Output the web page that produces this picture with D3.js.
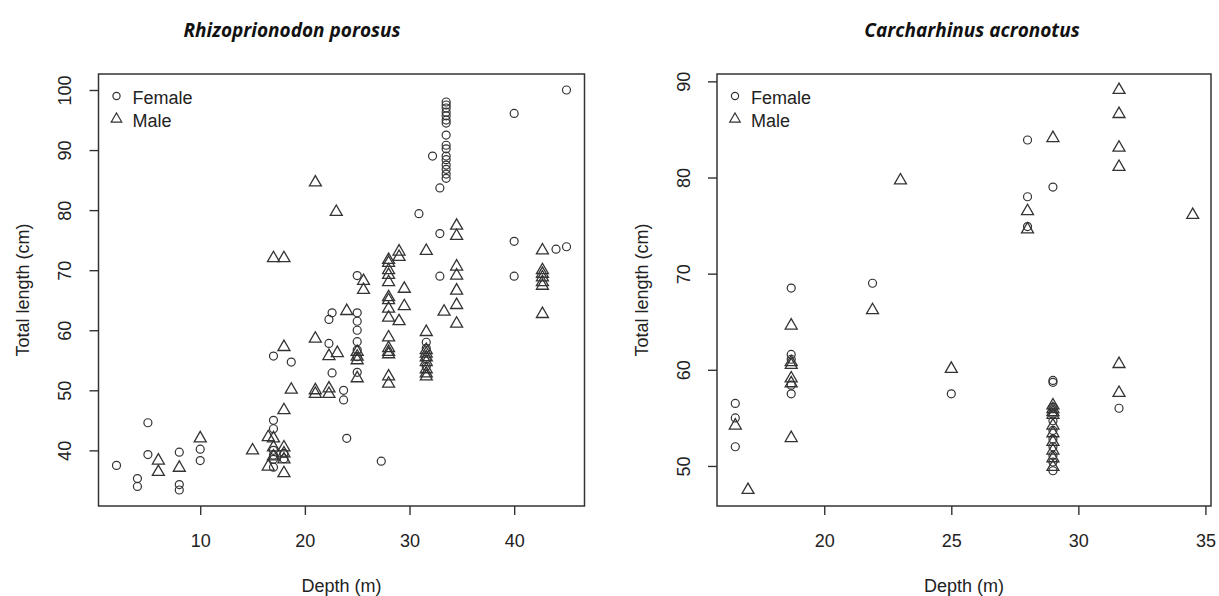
<!DOCTYPE html>
<html>
<head>
<meta charset="utf-8">
<script src="https://cdn.jsdelivr.net/npm/d3@7"></script>
<style>
  body { margin: 0; background: #fff; }
  svg { display: block; }
  .tick text, .lab, .legend text { font-family: "Liberation Sans", Arial, sans-serif; fill: #222; }
  .title { font-family: "Open Sans", sans-serif; font-weight: bold; font-style: italic; fill: #111; }
</style>
</head>
<body>
<svg id="chart" width="1219" height="596"></svg>
<script>
"use strict";

// Rhizoprionodon porosus : [depth (m), total length (cm)]
var rpFemale = [
  [2,37.5],[4,35.3],[4,34],[5,44.6],[5,39.3],[8,39.7],[8,34.3],[8,33.4],[10,40.2],[10,38.3],
  [17,55.7],[17,45],[17,43.6],[17,40],[17,39.2],[17,38.5],[17,37.2],[18,39.5],[18,38.6],[18.7,54.7],
  [22.3,61.8],[22.6,62.9],[22.3,57.8],[22.6,52.9],[23.7,50],[23.7,48.4],[24,42],
  [25,69.1],[25,62.9],[25,61.5],[25,60],[25,58.1],[25,56.7],[25,55.6],[25,53],
  [27.3,38.2],
  [30.9,79.4],[32.2,89],[32.9,83.7],[32.9,76.1],[32.9,69],
  [31.6,58],[31.6,57],[31.6,55.2],[31.6,54],
  [33.5,98],[33.5,97.5],[33.5,97],[33.5,96.3],[33.5,95.7],[33.5,95],[33.5,94.5],[33.5,92.5],
  [33.5,90.8],[33.5,90.2],[33.5,89],[33.5,88.4],[33.5,87.5],[33.5,86.8],[33.5,86],[33.5,85.3],
  [40,96.1],[40,74.8],[40,69],[44,73.5],[45,73.9],[45,100]
];
var rpMale = [
  [6,38.3],[6,36.4],[8,37.1],[10,42],[15,40],
  [16.5,42.2],[17,42],[16.5,37.3],[17,40.5],[17,39],[18,40.5],[18,39.5],[18,38.5],[18,36.2],
  [18,57.2],[18,46.7],[18.7,50.1],[17,72],[18,72],
  [21,84.6],[23,79.7],[21,58.6],[21,50],[21,49.4],[22.3,50.3],[22.3,49.4],[22.3,55.7],[23.1,56.2],[24,63.2],
  [25.6,68.2],[25.6,66.7],[25,56.4],[25,55.6],[25,55],[25,52],
  [28,71.7],[28,71.2],[28,70],[28,69.2],[28,68],[28,65.5],[28,65],[28,63.6],[28,62.1],
  [28,58.8],[28,57],[28,56.4],[28,56],[28,52.3],[28,51.1],
  [29,73.1],[29,72.2],[29.5,66.9],[29.5,64],[29,61.5],
  [31.6,73.2],[31.6,59.7],[31.6,56.7],[31.6,56.1],[31.6,55.5],[31.6,54.7],[31.6,53.5],[31.6,52.8],[31.6,52.3],
  [33.3,63.1],
  [34.5,77.4],[34.5,75.7],[34.5,70.6],[34.5,69.1],[34.5,66.6],[34.5,64.2],[34.5,61.1],
  [42.7,73.3],[42.7,70],[42.7,69.4],[42.7,68.8],[42.7,68],[42.7,67.4],[42.7,62.7]
];

// Carcharhinus acronotus : [depth (m), total length (cm)]
var caFemale = [
  [16.5,56.5],[16.5,55],[16.5,52],
  [18.7,68.5],[18.7,61.6],[18.7,61.1],[18.7,58.4],[18.7,57.5],
  [21.9,69],[25,57.5],
  [28,83.9],[28,78],[28,74.9],
  [29,79],[29,58.9],[29,58.7],[29,56.1],[29,55.4],[29,54.7],[29,53.7],[29,52.8],[29,52],[29,51.1],[29,50.4],[29,49.5],
  [31.6,56]
];
var caMale = [
  [16.5,54.2],[17,47.5],
  [18.7,64.6],[18.7,60.8],[18.7,60.5],[18.7,59.1],[18.7,58.6],[18.7,52.9],
  [21.9,66.2],[23,79.7],[25,60.1],
  [28,76.5],[28,74.6],
  [29,84.1],[29,56.3],[29,55.9],[29,55.6],[29,55.3],[29,54.2],[29,53.4],[29,52.5],[29,51.6],[29,50.8],[29,49.9],
  [31.6,89.1],[31.6,86.6],[31.6,83.1],[31.6,81.1],[31.6,60.6],[31.6,57.6],
  [34.5,76.1]
];

var rpXTicks = [10, 20, 30, 40];
var rpYTicks = [40, 50, 60, 70, 80, 90, 100];
var caXTicks = [20, 25, 30, 35];
var caYTicks = [50, 60, 70, 80, 90];
var legendLabels = ["Female", "Male"];

var svg = d3.select("#chart");

// R style range: data extent widened by 4% each side
function rRange(vals) {
  var e = d3.extent(vals), d = (e[1] - e[0]) * 0.04;
  return [e[0] - d, e[1] + d];
}

// triangle outline (pch = 2) centred on cx, cy
function triPath(cx, cy, s) {
  var h = s * Math.sqrt(3) / 2;
  return "M" + (cx - s/2) + "," + (cy + h/3)
    + "L" + cx + "," + (cy - 2*h/3)
    + "L" + (cx + s/2) + "," + (cy + h/3) + "Z";
}

function drawPanel(p) {
  var g = svg.append("g");
  var all = p.female.concat(p.male);
  var x = d3.scaleLinear().domain(rRange(all.map(function(d){ return d[0]; })))
    .range([p.left, p.right]);
  var y = d3.scaleLinear().domain(rRange(all.map(function(d){ return d[1]; })))
    .range([p.bottom, p.top]);

  // x axis
  var xa = g.append("g")
    .attr("transform", "translate(0," + p.bottom + ")")
    .call(d3.axisBottom(x).tickValues(p.xTicks).tickSize(9).tickPadding(0).tickFormat(d3.format("d")));
  xa.select(".domain").remove();
  xa.selectAll(".tick line").attr("stroke", "#333").attr("stroke-width", 1.4);
  xa.selectAll(".tick text").attr("font-size", 18).attr("y", 41).attr("dy", 0);

  // y axis, labels turned like R (las = 0)
  var ya = g.append("g")
    .attr("transform", "translate(" + p.left + ",0)")
    .call(d3.axisLeft(y).tickValues(p.yTicks).tickSize(9).tickFormat(d3.format("d")));
  ya.select(".domain").remove();
  ya.selectAll(".tick line").attr("stroke", "#333").attr("stroke-width", 1.4);
  ya.selectAll(".tick text")
    .attr("font-size", 18)
    .attr("x", 0).attr("dy", 0)
    .attr("text-anchor", "middle")
    .attr("transform", "translate(-27.5,0) rotate(-90)");

  // box
  g.append("rect")
    .attr("x", p.left).attr("y", p.top)
    .attr("width", p.right - p.left).attr("height", p.bottom - p.top)
    .attr("fill", "none").attr("stroke", "#333").attr("stroke-width", 1.5);

  // points
  g.append("g").selectAll("circle")
    .data(p.female).enter()
    .append("circle")
      .attr("cx", function(d){ return x(d[0]); })
      .attr("cy", function(d){ return y(d[1]); })
      .attr("r", 4)
      .attr("fill", "none").attr("stroke", "#333").attr("stroke-width", 1.2);
  g.append("g").selectAll("path")
    .data(p.male).enter()
    .append("path")
      .attr("d", function(d){ return triPath(x(d[0]), y(d[1]), 12); })
      .attr("fill", "none").attr("stroke", "#333").attr("stroke-width", 1.3);

  // legend
  var lg = g.append("g").attr("class", "legend");
  lg.append("circle").attr("cx", p.left + 18).attr("cy", 96).attr("r", 3.6)
    .attr("fill", "none").attr("stroke", "#333").attr("stroke-width", 1.2);
  lg.append("path").attr("d", triPath(p.left + 18, 119, 10.5))
    .attr("fill", "none").attr("stroke", "#333").attr("stroke-width", 1.2);
  lg.selectAll("text").data(legendLabels).enter()
    .append("text")
      .attr("x", p.left + 34)
      .attr("y", function(d, i){ return 104 + i*23; })
      .attr("font-size", 18)
      .text(function(d){ return d; });

  // axis titles
  g.append("text").attr("class", "lab")
    .attr("x", (p.left + p.right) / 2).attr("y", 592)
    .attr("text-anchor", "middle").attr("font-size", 18)
    .text("Depth (m)");
  g.append("text").attr("class", "lab")
    .attr("transform", "translate(" + (p.left - 69.5) + "," + ((p.top + p.bottom) / 2) + ") rotate(-90)")
    .attr("text-anchor", "middle").attr("font-size", 18)
    .text("Total length (cm)");

  // species title
  svg.append("text").attr("class", "title")
    .attr("x", p.titleX).attr("y", 37)
    .attr("text-anchor", "middle").attr("font-size", 19)
    .text(p.title);
}

drawPanel({ title: "Rhizoprionodon porosus", titleX: 292,
  female: rpFemale, male: rpMale, xTicks: rpXTicks, yTicks: rpYTicks,
  left: 98.5, right: 584.5, top: 74, bottom: 506 });

drawPanel({ title: "Carcharhinus acronotus", titleX: 972,
  female: caFemale, male: caMale, xTicks: caXTicks, yTicks: caYTicks,
  left: 717, right: 1211, top: 74, bottom: 506 });
</script>
</body>
</html>
